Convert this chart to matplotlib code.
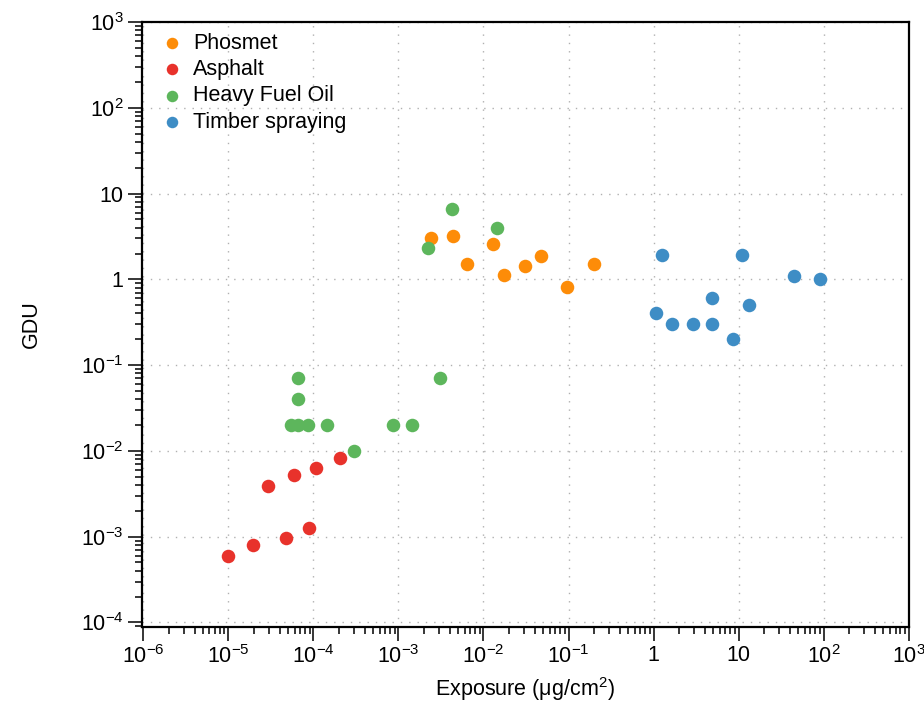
import matplotlib
matplotlib.use('Agg')
import matplotlib.pyplot as plt
import matplotlib.ticker as mticker
import numpy as np

plt.rcParams['font.family'] = ['Liberation Sans', 'DejaVu Sans']
plt.rcParams['mathtext.fontset'] = 'custom'
plt.rcParams['mathtext.rm'] = 'Liberation Sans'
plt.rcParams['mathtext.it'] = 'Liberation Sans:italic'
plt.rcParams['mathtext.default'] = 'regular'

# ── data ─────────────────────────────────────────────────────────────────────
phosmet_x = [2.4e-3, 4.4e-3, 6.4e-3, 1.3e-2, 1.75e-2, 3.1e-2, 4.7e-2, 0.097, 0.2]
phosmet_y = [3.0, 3.2, 1.5, 2.6, 1.12, 1.43, 1.85, 0.82, 1.5]

asphalt_x = [1.0e-5, 1.95e-5, 4.8e-5, 8.8e-5, 2.9e-5, 5.9e-5, 1.06e-4, 2.08e-4]
asphalt_y = [5.9e-4, 7.9e-4, 9.7e-4, 1.27e-3, 3.9e-3, 5.3e-3, 6.4e-3, 8.3e-3]

hfo_x = [4.3e-3, 1.44e-2, 2.2e-3, 6.6e-5, 6.6e-5, 5.4e-5, 6.6e-5, 8.6e-5,
         1.45e-4, 8.6e-4, 1.44e-3, 3.1e-3, 3.0e-4]
hfo_y = [6.6, 4.0, 2.3, 0.07, 0.04, 0.02, 0.02, 0.02,
         0.02, 0.02, 0.02, 0.07, 0.01]

timber_x = [1.25, 11.1, 45, 91, 4.84, 13.4, 1.06, 1.64, 2.87, 4.84, 8.55]
timber_y = [1.9, 1.9, 1.1, 1.0, 0.6, 0.5, 0.4, 0.3, 0.3, 0.3, 0.2]

x_exponents = list(range(-6, 4))
y_exponents = list(range(-4, 4))

series = [
    ("Phosmet", phosmet_x, phosmet_y, "#FD8C08"),
    ("Asphalt", asphalt_x, asphalt_y, "#E8322B"),
    ("Heavy Fuel Oil", hfo_x, hfo_y, "#5DB65C"),
    ("Timber spraying", timber_x, timber_y, "#3E8DC5"),
]

FS = 15.5

W, H = 924, 705
fig = plt.figure(figsize=(W / 100, H / 100), dpi=100, facecolor='white')
ax = fig.add_axes([141.7 / W, 78 / H, 767 / W, 605 / H])

for name, xs, ys, col in series:
    ax.scatter(xs, ys, s=95, color=col, linewidths=0, label=name, zorder=3)

ax.set_xscale('log')
ax.set_yscale('log')
ax.set_xlim(10 ** -6.019, 1e3)
ax.set_ylim(10 ** -4.053, 1e3)


def fmt(v, pos):
    e = int(round(np.log10(v)))
    if e == 0:
        return '1'
    if e == 1:
        return '10'
    return r'$10^{%d}$' % e


def minors(exps, lo, hi):
    out = []
    for e in range(exps[0] - 1, exps[-1] + 1):
        for s in range(2, 10):
            v = s * 10.0 ** e
            if lo <= v <= hi:
                out.append(v)
    return out


for axis, exps in ((ax.xaxis, x_exponents), (ax.yaxis, y_exponents)):
    lo, hi = axis.get_view_interval()
    axis.set_major_locator(mticker.FixedLocator([10.0 ** e for e in exps]))
    axis.set_minor_locator(mticker.FixedLocator(minors(exps, lo, hi)))
    axis.set_major_formatter(mticker.FuncFormatter(fmt))
    axis.set_minor_formatter(mticker.NullFormatter())

ax.tick_params(which='major', direction='out', length=10, width=1.1,
               labelsize=FS, pad=3)
ax.tick_params(which='minor', direction='out', length=5, width=1.1)
ax.tick_params(top=False, right=False, which='both')

for sp in ax.spines.values():
    sp.set_linewidth(1.6)
    sp.set_color('black')

ax.grid(True, which='major', color='#b0b0b0', linestyle=(0, (1, 5)),
        linewidth=1.0, zorder=0)
ax.set_axisbelow(True)

ax.set_xlabel('Exposure (μg/cm$^2$)', fontsize=FS)
ax.set_ylabel('GDU', fontsize=FS)
ax.xaxis.set_label_coords(0.5, -0.080)
ax.yaxis.set_label_coords(-0.130, 0.5)

ax.legend(loc='upper left', bbox_to_anchor=(0, 1 + 4.5 / 605), frameon=False,
          fontsize=FS, markerscale=0.85, handletextpad=0.3,
          labelspacing=0.25, borderaxespad=0.3, handlelength=1.4)

fig.savefig('out.png', dpi=100, facecolor='white')
